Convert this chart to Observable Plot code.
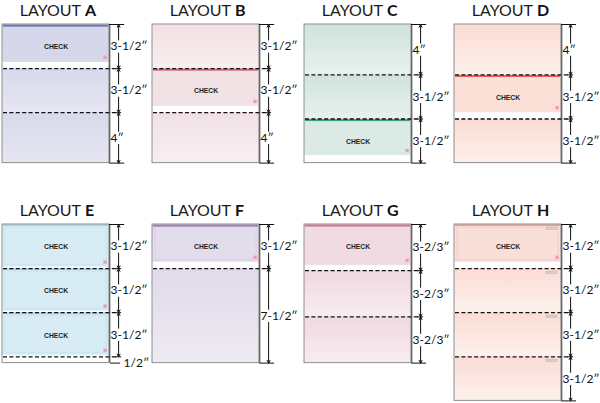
<!DOCTYPE html>
<html><head><meta charset="utf-8">
<script src="https://cdn.jsdelivr.net/npm/d3@7"></script>
<script src="https://cdn.jsdelivr.net/npm/@observablehq/plot@0.6"></script>
<style>body{margin:0;background:#fff} #chart svg{display:block}</style>
</head><body><div id="chart"></div>
<script>
// ---- data ----
const layouts = ["A","B","C","D","E","F","G","H"];
const sectionInches = [
  [3.5,3.5,4],[3.5,3.5,4],[4,3.5,3.5],[4,3.5,3.5],
  [3.5,3.5,3.5,0.5],[3.5,7.5],[11/3,11/3,11/3],[3.5,3.5,3.5,3.5]
];
const sectionLabels = [
  ["3-1/2″","3-1/2″","4″"],["3-1/2″","3-1/2″","4″"],
  ["4″","3-1/2″","3-1/2″"],["4″","3-1/2″","3-1/2″"],
  ["3-1/2″","3-1/2″","3-1/2″","1/2″"],["3-1/2″","7-1/2″"],
  ["3-2/3″","3-2/3″","3-2/3″"],["3-1/2″","3-1/2″","3-1/2″","3-1/2″"]
];
const checkSections = [[0],[1],[2],[1],[0,1,2],[0],[0],[0]];
const pageWidthIn = 8.5;
const checkWord = "CHECK";
const titleWord = "LAYOUT";

// ---- styles / layout constants ----
const W = 600, H = 403, PPI = 12.6;
const p = v => v / PPI;             // pixels -> inches
const colLeft = [2, 152, 304, 454];
const rowTop = [24, 224];
const palette = {
  A:{top:"#d7d8ec",bottom:"#e7e7f2",check:"#d6d7eb",stripe:"#6d72b7",margin:0.5},
  B:{top:"#f1e0e4",bottom:"#f8eef0",check:"#f1e2e5",stripe:"#d8637f",margin:0.5},
  C:{top:"#d0e3db",bottom:"#e8f1ee",check:"#dbeae4",stripe:"#3f9d80",margin:0.6},
  D:{top:"#fbdcd4",bottom:"#fdefea",check:"#fbe0d8",stripe:"#ee5b5e",margin:0.5},
  E:{top:"#d5ebf4",bottom:"#e4f3f8",check:"#d8ecf5",stripe:"#86cbdf",margin:0.12,border:"#c2e1ec"},
  F:{top:"#e1dae9",bottom:"#eeeaf3",check:"#e3dcea",stripe:"#9d7db3",margin:0.5,border:"#d6cde2"},
  G:{top:"#f0d8e0",bottom:"#f8ecf0",check:"#f1dbe2",stripe:"#dc6f98",margin:0.42},
  H:{top:"#fbdcd5",bottom:"#fdf1ed",check:"#fadfd8",stripe:"#ef6f6f",margin:0.5,border:"#f6c4bf"}
};

// ---- derived tables ----
const pages = layouts.map((L,k) => {
  const x0 = p(colLeft[k % 4]), y0 = p(rowTop[Math.floor(k / 4)]);
  const secs = sectionInches[k];
  return {L, k, x0, x1: x0 + pageWidthIn, y0, y1: y0 + d3.sum(secs), dimX: x0 + pageWidthIn + p(9), secs};
});
const sections = pages.flatMap(pg => {
  let y = pg.y0;
  return pg.secs.map((h,i) => {
    const s = {L: pg.L, k: pg.k, i, h, x0: pg.x0, x1: pg.x1, y0: y, y1: y + h, mid: y + h/2,
      dimX: pg.dimX, label: sectionLabels[pg.k][i], isCheck: checkSections[pg.k].includes(i),
      last: i === pg.secs.length - 1};
    y += h; return s;
  });
});
const checks = sections.filter(s => s.isCheck).map(s => ({...s, cy1: s.y1 - palette[s.L].margin}));
const big = sections.filter(s => s.h >= 1);
const small = sections.filter(s => s.h < 1);
const dimArrows = big.flatMap(s => [
  {x: s.dimX, from: s.mid - p(6.5), to: s.y0},
  {x: s.dimX, from: s.mid + p(6.5), to: s.y1}
]);
const longTicks = [
  ...pages.map(pg => ({y: pg.y0, a: pg.x1, b: pg.dimX + p(6)})),
  ...big.filter(s => s.last).map(s => ({y: s.y1, a: s.x1, b: s.dimX + p(6)}))
];
const shortTicks = sections.filter(s => s.i > 0).map(s => ({y: s.y0, a: s.dimX - p(3), b: s.dimX + p(3)}));
const smallLines = small.map(s => ({y: s.y1, a: s.x1 + p(1), b: s.dimX + p(2)}));
const hBoxes = sections.filter(s => s.L === "H");

// gradient defs
const defs = () => {
  const d = d3.create("svg:defs");
  for (const L of layouts) {
    const g = d.append("linearGradient").attr("id", "g" + L).attr("x1",0).attr("y1",0).attr("x2",0).attr("y2",1);
    g.append("stop").attr("offset","0%").attr("stop-color", palette[L].top);
    g.append("stop").attr("offset","100%").attr("stop-color", palette[L].bottom);
  }
  return d.node();
};

const chart = Plot.plot({
  width: W, height: H, margin: 0,
  x: {domain: [0, p(W)], range: [0, W], axis: null},
  y: {domain: [0, p(H)], range: [0, H], axis: null},
  color: {type: "identity"},
  style: {background: "#fff"},
  marks: [
    defs,
    // section backgrounds
    Plot.rect(sections, {x1: "x0", x2: "x1", y1: "y0", y2: "y1",
      fill: d => d.h < 1 ? "#ffffff" : `url(#g${d.L})`}),
    // white strip under each check
    Plot.rect(checks, {x1: "x0", x2: "x1", y1: "cy1", y2: "y1", fill: "#ffffff"}),
    // check bodies
    Plot.rect(checks, {x1: d => d.x0 + p(1), x2: d => d.x1 - p(1), y1: "y0", y2: "cy1",
      fill: d => palette[d.L].check}),
    Plot.rect(checks.filter(d => palette[d.L].border), {x1: d => d.x0 + p(3), x2: d => d.x1 - p(3),
      y1: d => d.y0 + p(3), y2: d => d.cy1 - p(2), fill: "none", stroke: d => palette[d.L].border, strokeWidth: 0.7}),
    // coloured stripe at top of each check
    Plot.rect(checks, {x1: d => d.x0 + p(1), x2: d => d.x1 - p(1), y1: d => d.y0 + p(0.6),
      y2: d => d.y0 + p(d.L === "E" || d.L === "H" ? 1.6 : 2.6), fill: d => palette[d.L].stripe}),
    // small gray number boxes on layout H
    Plot.rect(hBoxes, {x1: d => d.x1 - p(15), x2: d => d.x1 - p(4), y1: d => d.y0 + p(3), y2: d => d.y0 + p(5.5),
      fill: "#d8d0ce", stroke: "#b4adab", strokeWidth: 0.4}),
    // pink mark
    Plot.dot(checks, {x: d => d.x1 - p(4.5), y: d => d.cy1 - p(5), symbol: "square", r: 1.9, fill: "#ee9bbb"}),
    Plot.text(checks, {x: d => d.x0 + pageWidthIn/2, y: d => d.y0 + 1.8, text: () => checkWord,
      fontSize: 6.8, fontWeight: 700, fontFamily: "Liberation Sans, Arial, sans-serif", fill: "#222"}),
    // page outline
    Plot.rect(pages, {x1: "x0", x2: "x1", y1: "y0", y2: "y1", fill: "none", stroke: "#8e8e8e", strokeWidth: 1}),
    Plot.ruleX(pages, {x: "x1", y1: "y0", y2: "y1", stroke: "#6a6a6a", strokeWidth: 1.6}),
    // perforation lines
    Plot.ruleY(sections.filter(s => s.i > 0), {y: "y0", x1: d => d.x0 + p(1), x2: "dimX",
      stroke: "#111", strokeWidth: 1.3, strokeDasharray: "4,2.4"}),
    // dimension lines
    Plot.arrow(dimArrows, {x1: "x", x2: "x", y1: "from", y2: "to", stroke: "#111", strokeWidth: 1,
      headLength: 4.5, headAngle: 55}),
    Plot.ruleY(longTicks, {y: "y", x1: "a", x2: "b", stroke: "#111", strokeWidth: 1}),
    Plot.ruleY(shortTicks, {y: "y", x1: "a", x2: "b", stroke: "#111", strokeWidth: 1}),
    Plot.ruleY(smallLines, {y: "y", x1: "a", x2: "b", stroke: "#111", strokeWidth: 1}),
    Plot.text(big, {x: "x1", y: "mid", text: "label", textAnchor: "start", dx: 1,
      fontSize: 12, fontFamily: "Lato, sans-serif", fill: "#111"}),
    Plot.text(small, {x: d => d.dimX + p(5), y: "y1", text: "label", textAnchor: "start",
      fontSize: 12, fontFamily: "Lato, sans-serif", fill: "#111"}),
    // titles
    Plot.text(pages, {x: d => d.x0 + pageWidthIn/2, y: "y0", text: () => titleWord, textAnchor: "end",
      dx: 25, dy: -14, fontSize: 16, fontWeight: 400, fontFamily: "Lato, sans-serif", fill: "#1a1a1a"}),
    Plot.text(pages, {x: d => d.x0 + pageWidthIn/2, y: "y0", text: "L", textAnchor: "start",
      dx: 29, dy: -14, fontSize: 16, fontWeight: 700, fontFamily: "Lato, sans-serif", fill: "#111"})
  ]
});
document.getElementById("chart").append(chart);
</script>
</body></html>
